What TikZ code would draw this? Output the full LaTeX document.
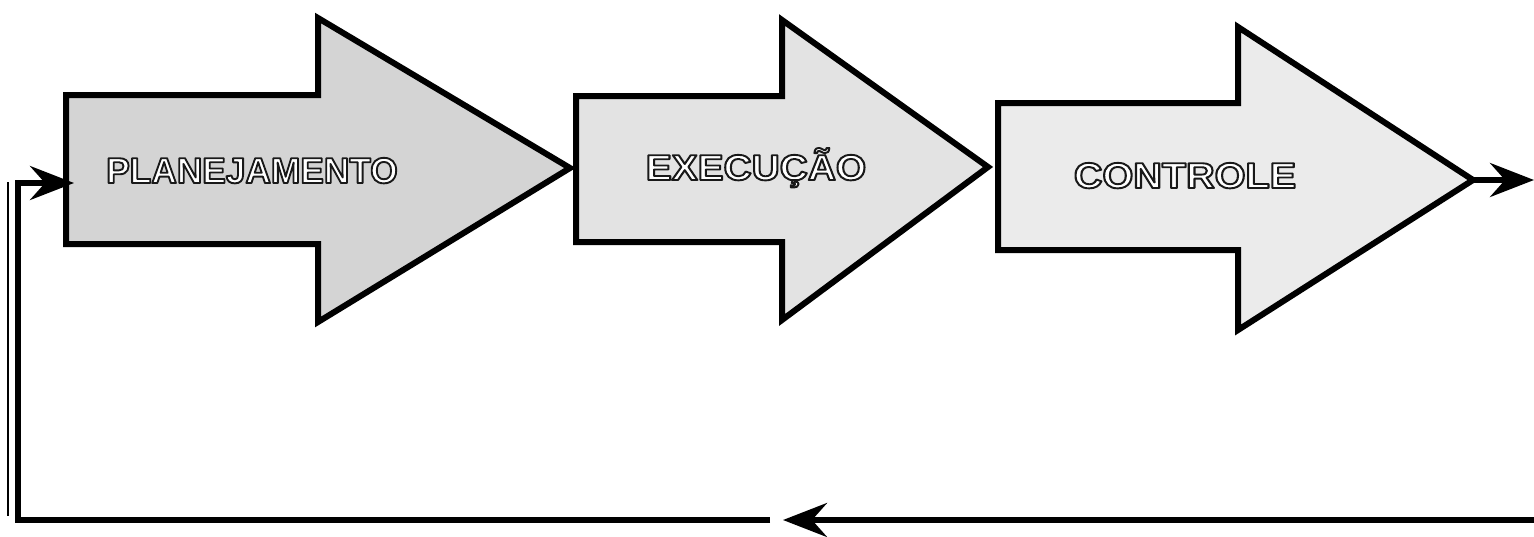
\documentclass[tikz,border=0pt]{standalone}
\usepackage{fontspec}
\setmainfont{Liberation Sans}
\usetikzlibrary{arrows.meta}
\tikzset{
  bigarrow/.style={draw=black, line width=6pt, line join=miter, miter limit=10},
  wire/.style={draw=black, line width=5.5pt},
  tip/.style={-{Stealth[length=44pt,width=34pt,inset=15pt]}},
  lbl/.style={anchor=base, inner sep=0pt, font=\fontsize{36}{38}\selectfont\bfseries}
}
% white letters stroked in black (text render mode 2)
\newcommand{\outlined}[2]{\scalebox{#1}[1]{\textcolor{white}{%
  \special{pdf:literal direct 2 Tr 1.9 w 0.1 0.1 0.1 RG 1 j}#2\special{pdf:literal direct 0 Tr}}}}
\begin{document}
\begin{tikzpicture}[x=1pt,y=-1pt]
  \useasboundingbox (0,0) rectangle (1534,536);

  % the three stage arrows
  \draw[bigarrow, fill=black!17]
    (66,95) -- (318,95) -- (318,18) -- (570,168) coordinate (tipA)
    -- (318,322) -- (318,244) -- (66,244) -- cycle;
  \draw[bigarrow, fill=black!11]
    (576,96) -- (782,96) -- (782,20) -- (988,167) coordinate (tipB)
    -- (782,320) -- (782,242) -- (576,242) -- cycle;
  \draw[bigarrow, fill=black!8]
    (998,103) -- (1238,103) -- (1238,27) -- (1473,180) coordinate (tipC)
    -- (1238,330) -- (1238,250) -- (998,250) -- cycle;

  % stage labels
  \node[lbl] (plan) at (252,183) {\outlined{0.98}{PLANEJAMENTO}};
  \node[lbl] (exec) at (756,180) {\outlined{1.08}{EXECUÇÃO}};
  \node[lbl] (ctrl) at (1185,188) {\outlined{1.1}{CONTROLE}};

  % connector points of the feedback loop
  \coordinate (out)  at (1534,180);
  \coordinate (fbR)  at (1534,520);
  \coordinate (fbM)  at (783,520);
  \coordinate (fbG)  at (770,520);
  \coordinate (fbL)  at (18,520);
  \coordinate (inA)  at (74,183);
  \coordinate (thinT) at (8,182);
  \coordinate (thinB) at (8,516);

  % output of the last stage
  \draw[wire, tip] (tipC) -- (out);

  % feedback back to planning
  \draw[wire, tip] (fbR) -- (fbM);
  \draw[wire, tip, line join=miter] (fbG) -- (fbL) |- (inA);
  \draw[black, line width=2pt] (thinT) -- (thinB);
\end{tikzpicture}
\end{document}
